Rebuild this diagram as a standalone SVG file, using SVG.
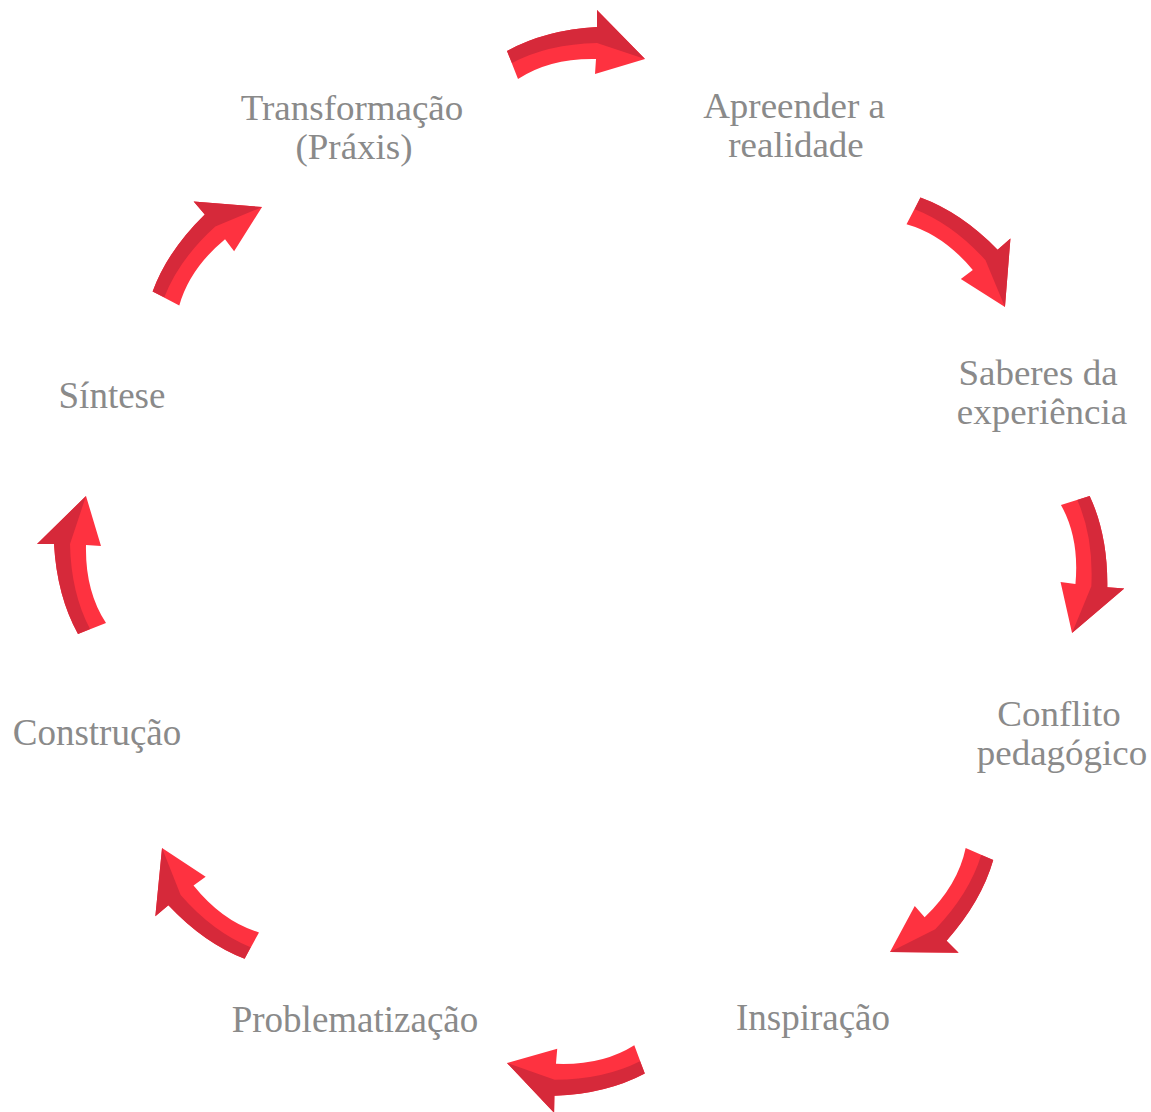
<svg xmlns="http://www.w3.org/2000/svg" xmlns:xlink="http://www.w3.org/1999/xlink" width="1151" height="1112" viewBox="0 0 1151 1112">
  <style>
    .lbl { font-family: "Liberation Serif", "DejaVu Serif", serif; font-size: 37px; fill: #8a8a8a; text-anchor: middle; }
    .lbl2 { font-family: "Liberation Serif", "DejaVu Serif", serif; font-size: 35px; fill: #8a8a8a; text-anchor: middle; }
    .light { fill: #fe3240; }
    .dark { fill: #d6293a; }
  </style>
  <defs>
    <g id="arrow">
      <path class="light" d="M -69,7 Q -31,-14 21,-17 L 21,-34 L 69,15 L 19,30 L 20,15 Q -26,14 -58,35 Z"/>
      <path class="dark" d="M -69,7 Q -31,-14 21,-17 L 21,-34 L 69,15 L 21,-1 Q -28,0 -64,19 Z"/>
    </g>
  </defs>
  <rect width="1151" height="1112" fill="#ffffff"/>
  <g id="connectors">
    <use xlink:href="#arrow" href="#arrow" transform="translate(576,44)"/>
    <use xlink:href="#arrow" href="#arrow" transform="translate(971,245) rotate(49)"/>
    <use xlink:href="#arrow" href="#arrow" transform="translate(1091.8,565.2) rotate(94)"/>
    <use xlink:href="#arrow" href="#arrow" transform="translate(949.4,913.8) rotate(135)"/>
    <use xlink:href="#arrow" href="#arrow" transform="translate(575.7,1079.2) rotate(181)"/>
    <use xlink:href="#arrow" href="#arrow" transform="translate(194.9,910.5) rotate(230)"/>
    <use xlink:href="#arrow" href="#arrow" transform="translate(71,565) rotate(270)"/>
    <use xlink:href="#arrow" href="#arrow" transform="translate(200.1,241) rotate(-41)"/>
  </g>
  <g id="node-transformacao">
    <text class="lbl2" transform="translate(352 120) scale(1.057 1)">Transformação</text>
    <text class="lbl2" transform="translate(354 159) scale(1.057 1)">(Práxis)</text>
  </g>
  <g id="node-apreender">
    <text class="lbl2" transform="translate(794 118) scale(1.057 1)">Apreender a</text>
    <text class="lbl2" transform="translate(796 157) scale(1.057 1)">realidade</text>
  </g>
  <g id="node-saberes">
    <text class="lbl2" transform="translate(1038 385) scale(1.057 1)">Saberes da</text>
    <text class="lbl2" transform="translate(1042 424) scale(1.057 1)">experiência</text>
  </g>
  <g id="node-conflito">
    <text class="lbl2" transform="translate(1059 726) scale(1.057 1)">Conflito</text>
    <text class="lbl2" transform="translate(1062 765) scale(1.057 1)">pedagógico</text>
  </g>
  <g id="node-inspiracao">
    <text class="lbl" x="813" y="1030">Inspiração</text>
  </g>
  <g id="node-problematizacao">
    <text class="lbl" x="355" y="1032">Problematização</text>
  </g>
  <g id="node-construcao">
    <text class="lbl" x="97" y="745">Construção</text>
  </g>
  <g id="node-sintese">
    <text class="lbl" x="112" y="408">Síntese</text>
  </g>
</svg>
